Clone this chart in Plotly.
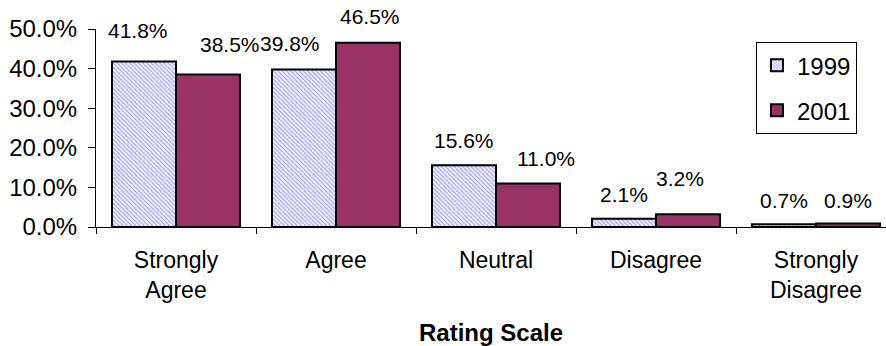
import plotly.graph_objects as go

categories = ["Strongly<br>Agree", "Agree", "Neutral", "Disagree", "Strongly<br>Disagree"]
series_names = ["1999", "2001"]
values_1999 = [41.8, 39.8, 15.6, 2.1, 0.7]
values_2001 = [38.5, 46.5, 11.0, 3.2, 0.9]
y_ticks = [0, 10, 20, 30, 40, 50]
y_tick_labels = ["0.0%", "10.0%", "20.0%", "30.0%", "40.0%", "50.0%"]

# label nudges (pixels) mimicking the hand-placed labels of the original
nudge_1999 = [(-6, 6), (-14, 1), (0, 0), (0, 0), (0, -1)]
nudge_2001 = [(22, 6), (2, 2), (18, 0), (-8, 11), (0, -2)]

FONT = "Arial, Liberation Sans, sans-serif"

fig = go.Figure()
fig.add_trace(go.Bar(
    x=categories, y=values_1999, name=series_names[0], legendgroup="a",
    marker=dict(color="#E4E4FF",
                line=dict(color="black", width=2),
                pattern=dict(shape="\\", fgcolor="#9A9AF0", bgcolor="#F2F2FF",
                             size=3, solidity=0.35, fillmode="replace")),
))
fig.add_trace(go.Bar(
    x=categories, y=values_2001, name=series_names[1], legendgroup="b",
    marker=dict(color="#993366", line=dict(color="black", width=2)),
))

# data labels
offsets = [-0.2, 0.2]
for si, (vals, nudges) in enumerate([(values_1999, nudge_1999), (values_2001, nudge_2001)]):
    for ci, v in enumerate(vals):
        dx, dy = nudges[ci]
        fig.add_annotation(x=ci + offsets[si], y=v, xref="x", yref="y",
                           text=f"{v:.1f}%", showarrow=False,
                           xshift=dx, yshift=24.5 + dy,
                           font=dict(family=FONT, size=21, color="black"))

fig.update_layout(
    width=886, height=346,
    margin=dict(l=96, r=0, t=29, b=119),
    paper_bgcolor="white", plot_bgcolor="white",
    barmode="group", bargap=0.2, bargroupgap=0,
    font=dict(family=FONT, size=23, color="black"),
    showlegend=True,
    legend=dict(x=0.8354, y=0.934, xanchor="left", yanchor="top",
                bordercolor="black", borderwidth=1, bgcolor="white",
                font=dict(family=FONT, size=24), tracegroupgap=11,
                traceorder="grouped"),
    xaxis=dict(range=[-0.5, 4.4375], showline=True, linecolor="black", linewidth=1,
               ticks="outside", tickson="boundaries", ticklen=6, tickcolor="black",
               tickfont=dict(family=FONT, size=23), ticklabelstandoff=12,
               showgrid=False, zeroline=False,
               title=dict(text="<b>Rating Scale</b>", font=dict(family=FONT, size=24),
                          standoff=26)),
    yaxis=dict(range=[0, 50], tickvals=y_ticks, ticktext=y_tick_labels,
               showline=True, linecolor="black", linewidth=1,
               ticks="outside", ticklen=7, tickcolor="black",
               tickfont=dict(family=FONT, size=24), ticklabelstandoff=6,
               showgrid=False, zeroline=False),
)

fig.write_html("out.html")
